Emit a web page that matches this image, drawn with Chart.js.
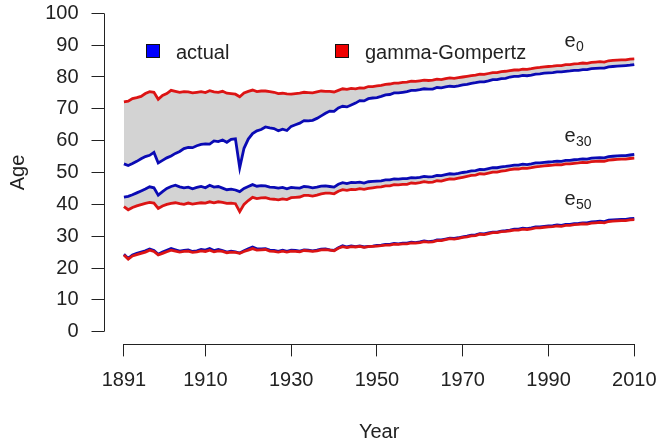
<!DOCTYPE html>
<html>
<head>
<meta charset="utf-8">
<style>
  html, body { margin: 0; padding: 0; background: #fff; }
  #wrap { width: 659px; height: 443px; }
</style>
</head>
<body>
<div id="wrap"><canvas id="chart" width="659" height="443"></canvas></div>
<script src="https://cdn.jsdelivr.net/npm/chart.js@4/dist/chart.umd.min.js"></script>
<script>
const years = [
  1891, 1892, 1893, 1894, 1895, 1896, 1897, 1898, 1899, 1900,
  1901, 1902, 1903, 1904, 1905, 1906, 1907, 1908, 1909, 1910,
  1911, 1912, 1913, 1914, 1915, 1916, 1917, 1918, 1919, 1920,
  1921, 1922, 1923, 1924, 1925, 1926, 1927, 1928, 1929, 1930,
  1931, 1932, 1933, 1934, 1935, 1936, 1937, 1938, 1939, 1940,
  1941, 1942, 1943, 1944, 1945, 1946, 1947, 1948, 1949, 1950,
  1951, 1952, 1953, 1954, 1955, 1956, 1957, 1958, 1959, 1960,
  1961, 1962, 1963, 1964, 1965, 1966, 1967, 1968, 1969, 1970,
  1971, 1972, 1973, 1974, 1975, 1976, 1977, 1978, 1979, 1980,
  1981, 1982, 1983, 1984, 1985, 1986, 1987, 1988, 1989, 1990,
  1991, 1992, 1993, 1994, 1995, 1996, 1997, 1998, 1999, 2000,
  2001, 2002, 2003, 2004, 2005, 2006, 2007, 2008, 2009, 2010
];

// life expectancy at birth
const e0Actual = [
  52.7, 52.2, 52.8, 53.5, 54.3, 55.0, 55.4, 56.3, 53.0, 53.8,
  54.6, 55.2, 56.0, 56.6, 57.5, 57.9, 57.8, 58.4, 58.8, 59.0,
  58.9, 59.9, 59.7, 60.2, 59.5, 60.4, 60.6, 51.5, 57.6, 60.5,
  62.2, 63.1, 63.5, 64.3, 64.0, 63.8, 63.1, 63.6, 63.2, 64.5,
  65.0, 65.5, 66.3, 66.2, 66.4, 67.0, 67.8, 68.6, 69.3, 69.2,
  70.3, 70.8, 70.6, 71.2, 71.8, 72.6, 72.5, 73.2, 73.4, 73.5,
  73.9, 74.4, 74.5, 75.0, 75.0, 75.2, 75.4, 75.8, 75.8, 76.0,
  76.3, 76.2, 76.2, 76.7, 76.6, 76.9, 77.1, 77.0, 77.2, 77.5,
  77.7, 78.0, 78.2, 78.5, 78.5, 78.8, 79.2, 79.2, 79.5, 79.6,
  80.0, 80.2, 80.2, 80.5, 80.4, 80.6, 80.9, 81.0, 81.2, 81.3,
  81.4, 81.6, 81.6, 81.8, 81.9, 82.1, 82.1, 82.3, 82.3, 82.6,
  82.7, 82.8, 82.8, 83.2, 83.3, 83.4, 83.5, 83.6, 83.7, 83.9
];
const e0Gompertz = [
  72.2, 72.4, 73.2, 73.5, 73.9, 74.8, 75.4, 75.2, 73.0, 74.2,
  74.8, 75.8, 75.5, 75.2, 75.4, 75.3, 75.0, 75.2, 75.4, 75.1,
  75.7, 75.3, 75.2, 75.5, 74.9, 74.8, 74.6, 73.8, 75.0, 75.5,
  75.9, 75.4, 75.6, 75.6, 75.4, 75.2, 74.8, 74.9, 74.7, 74.6,
  74.8, 74.9, 75.2, 75.1, 75.0, 75.3, 75.6, 75.5, 75.5, 75.3,
  75.8, 76.3, 76.1, 76.4, 76.3, 76.6, 76.5, 77.0, 77.0, 77.2,
  77.4, 77.7, 77.8, 78.1, 78.1, 78.3, 78.4, 78.7, 78.6, 78.8,
  79.0, 78.9, 79.0, 79.3, 79.2, 79.5, 79.7, 79.6, 79.8, 80.0,
  80.2, 80.4, 80.6, 80.9, 80.8, 81.1, 81.4, 81.4, 81.7, 81.8,
  82.0, 82.2, 82.2, 82.5, 82.4, 82.6, 82.9, 83.0, 83.2, 83.3,
  83.4, 83.6, 83.6, 83.9, 83.9, 84.1, 84.2, 84.4, 84.3, 84.6,
  84.7, 84.8, 84.7, 85.1, 85.2, 85.3, 85.4, 85.4, 85.6, 85.7
];

// remaining life expectancy at age 30
const e30Actual = [
  42.3, 42.5, 43.0, 43.6, 44.2, 44.8, 45.5, 45.2, 42.9, 44.0,
  45.0, 45.6, 46.0, 45.5, 45.2, 45.4, 44.9, 45.3, 45.6, 45.2,
  46.0, 45.4, 45.6, 45.1, 44.6, 44.8, 44.5, 44.0, 45.0, 45.6,
  46.2, 45.7, 45.9, 45.8, 45.4, 45.3, 45.1, 45.3, 44.9, 45.3,
  45.2, 45.1, 45.6, 45.5, 45.2, 45.4, 45.7, 45.8, 45.6, 45.4,
  46.3, 46.8, 46.5, 46.9, 46.8, 47.0, 46.7, 47.1, 47.2, 47.3,
  47.4, 47.7, 47.7, 48.0, 47.9, 48.1, 48.1, 48.4, 48.3, 48.5,
  48.8, 48.6, 48.7, 49.1, 49.0, 49.3, 49.6, 49.5, 49.7, 50.0,
  50.2, 50.5, 50.6, 51.0, 50.9, 51.2, 51.5, 51.5, 51.8, 51.9,
  52.1, 52.3, 52.3, 52.6, 52.5, 52.7, 53.0, 53.0, 53.2, 53.3,
  53.4, 53.6, 53.5, 53.8, 53.8, 54.0, 54.1, 54.3, 54.2, 54.5,
  54.6, 54.7, 54.6, 55.0, 55.1, 55.2, 55.3, 55.3, 55.5, 55.7
];
const e30Gompertz = [
  39.3, 38.3, 39.0, 39.5, 39.9, 40.3, 40.6, 40.4, 38.7, 39.5,
  40.0, 40.3, 40.5, 40.2, 40.0, 40.4, 40.1, 40.3, 40.5, 40.4,
  40.8, 40.5, 40.8, 40.6, 40.3, 40.4, 40.2, 37.7, 40.0, 41.2,
  42.2, 41.8, 42.0, 42.1, 41.7, 41.6, 41.4, 41.7, 41.5, 42.1,
  42.2, 42.3, 42.8, 42.8, 42.6, 42.9, 43.3, 43.5, 43.5, 43.3,
  44.1, 44.6, 44.4, 44.7, 44.6, 44.9, 44.7, 45.0, 45.2, 45.4,
  45.5, 45.8, 45.8, 46.2, 46.1, 46.3, 46.3, 46.7, 46.6, 46.8,
  47.1, 46.9, 47.0, 47.4, 47.3, 47.7, 48.0, 47.9, 48.2, 48.5,
  48.8, 49.1, 49.2, 49.6, 49.5, 49.8, 50.1, 50.1, 50.4, 50.6,
  50.9, 51.1, 51.1, 51.4, 51.3, 51.5, 51.8, 51.9, 52.1, 52.2,
  52.3, 52.5, 52.4, 52.7, 52.7, 52.9, 53.0, 53.2, 53.1, 53.4,
  53.5, 53.6, 53.5, 53.9, 54.0, 54.1, 54.2, 54.2, 54.4, 54.5
];

// remaining life expectancy at age 50
const e50Actual = [
  24.3, 23.0, 24.1, 24.6, 25.0, 25.4, 26.0, 25.5, 24.3, 25.0,
  25.6, 26.1, 25.7, 25.3, 25.5, 25.7, 25.2, 25.4, 25.8, 25.6,
  26.1, 25.5, 25.8, 25.5, 25.0, 25.3, 25.1, 24.7, 25.4, 26.0,
  26.6, 26.0, 26.0, 26.1, 25.6, 25.5, 25.2, 25.6, 25.2, 25.6,
  25.5, 25.3, 25.7, 25.6, 25.4, 25.6, 25.9, 26.0, 25.7, 25.5,
  26.4, 27.0, 26.6, 26.9, 26.7, 26.9, 26.6, 26.8, 26.9, 27.1,
  27.2, 27.4, 27.4, 27.7, 27.6, 27.8, 27.8, 28.1, 28.0, 28.2,
  28.5, 28.3, 28.4, 28.8, 28.8, 29.1, 29.4, 29.3, 29.5, 29.8,
  30.0, 30.3, 30.4, 30.8, 30.7, 31.0, 31.3, 31.3, 31.6, 31.7,
  31.9, 32.2, 32.2, 32.5, 32.4, 32.6, 32.9, 32.9, 33.1, 33.2,
  33.3, 33.5, 33.4, 33.7, 33.7, 33.9, 34.0, 34.2, 34.2, 34.5,
  34.6, 34.7, 34.6, 35.0, 35.1, 35.2, 35.3, 35.3, 35.5, 35.6
];
const e50Gompertz = [
  24.1, 22.8, 23.8, 24.2, 24.6, 25.0, 25.6, 25.2, 24.1, 24.6,
  25.1, 25.6, 25.3, 25.0, 25.2, 25.3, 24.9, 25.1, 25.4, 25.2,
  25.6, 25.1, 25.4, 25.2, 24.8, 25.0, 24.9, 24.6, 25.2, 25.6,
  26.1, 25.6, 25.7, 25.8, 25.3, 25.2, 25.0, 25.3, 25.0, 25.3,
  25.2, 25.1, 25.5, 25.4, 25.2, 25.4, 25.7, 25.8, 25.6, 25.4,
  26.2, 26.7, 26.4, 26.7, 26.6, 26.8, 26.5, 26.7, 26.8, 26.9,
  27.0, 27.2, 27.2, 27.5, 27.4, 27.6, 27.6, 27.9, 27.8, 28.0,
  28.3, 28.1, 28.2, 28.6, 28.6, 28.9, 29.2, 29.1, 29.3, 29.6,
  29.8, 30.1, 30.2, 30.6, 30.5, 30.8, 31.1, 31.1, 31.4, 31.5,
  31.7, 31.9, 31.9, 32.2, 32.1, 32.3, 32.6, 32.6, 32.8, 32.9,
  33.0, 33.2, 33.1, 33.4, 33.4, 33.6, 33.7, 33.9, 33.8, 34.1,
  34.2, 34.3, 34.2, 34.6, 34.7, 34.8, 34.9, 34.9, 35.1, 35.2
];

const xTicks = [1891, 1910, 1930, 1950, 1970, 1990, 2010];
const yTicks = [0, 10, 20, 30, 40, 50, 60, 70, 80, 90, 100];
const legendLabels = ['actual', 'gamma-Gompertz'];
const curveSubscripts = ['0', '30', '50'];

const BLUE = '#0a0ab4';
const RED = '#dc1414';
const GRAY = '#d3d3d3';
const INK = '#222';
const FONT = 'Liberation Sans, Arial, Helvetica, sans-serif';

// where the e0 / e30 / e50 labels sit (data units)
const curveLabelPos = [
  { x: 1993.7, y: 91.1 },
  { x: 1993.7, y: 61.2 },
  { x: 1993.7, y: 41.4 }
];

function pts(vals) {
  return vals.map((v, i) => ({ x: years[i], y: v }));
}

function lineSet(label, vals, color, fillTarget) {
  return {
    label,
    data: pts(vals),
    borderColor: color,
    borderWidth: 2.8,
    pointRadius: 0,
    tension: 0,
    fill: fillTarget ? { target: fillTarget, above: GRAY, below: GRAY } : false
  };
}

// R-style detached axis lines, legend and curve labels
const decor = {
  id: 'decor',
  afterDraw(chart) {
    const { ctx, chartArea } = chart;
    const xs = chart.scales.x, ys = chart.scales.y;
    ctx.save();
    ctx.strokeStyle = INK;
    ctx.lineWidth = 1;
    ctx.beginPath();
    const xl = Math.round(chartArea.left) + 0.5;
    ctx.moveTo(xl, ys.getPixelForValue(yTicks[0]));
    ctx.lineTo(xl, ys.getPixelForValue(yTicks[yTicks.length - 1]));
    const yb = Math.round(chartArea.bottom) + 0.5;
    ctx.moveTo(xs.getPixelForValue(xTicks[0]), yb);
    ctx.lineTo(xs.getPixelForValue(xTicks[xTicks.length - 1]), yb);
    ctx.stroke();

    // legend
    const items = [
      { x: 146, text: legendLabels[0], color: '#0000ff' },
      { x: 335, text: legendLabels[1], color: '#ee0000' }
    ];
    ctx.font = '20px ' + FONT;
    ctx.textBaseline = 'middle';
    ctx.textAlign = 'left';
    items.forEach(it => {
      ctx.fillStyle = it.color;
      ctx.fillRect(it.x, 44, 14, 14);
      ctx.strokeStyle = '#111';
      ctx.strokeRect(it.x + 0.5, 44.5, 13, 13);
      ctx.fillStyle = INK;
      ctx.fillText(it.text, it.x + 30, 53);
    });

    // e0, e30, e50
    curveLabelPos.forEach((p, i) => {
      const px = xs.getPixelForValue(p.x), py = ys.getPixelForValue(p.y);
      ctx.font = '20px ' + FONT;
      ctx.fillStyle = INK;
      ctx.fillText('e', px, py);
      ctx.font = '14px ' + FONT;
      ctx.fillText(curveSubscripts[i], px + 11.5, py + 5);
    });
    ctx.restore();
  }
};

new Chart(document.getElementById('chart'), {
  type: 'line',
  data: {
    datasets: [
      lineSet('e0 gamma-Gompertz', e0Gompertz, RED, '+1'),
      lineSet('e0 actual', e0Actual, BLUE),
      lineSet('e30 gamma-Gompertz', e30Gompertz, RED, '+1'),
      lineSet('e30 actual', e30Actual, BLUE),
      lineSet('e50 gamma-Gompertz', e50Gompertz, RED, '+1'),
      lineSet('e50 actual', e50Actual, BLUE)
    ]
  },
  options: {
    responsive: false,
    animation: false,
    layout: { padding: { top: 0.6, right: 4.3, left: 0, bottom: 0 } },
    plugins: {
      legend: { display: false },
      tooltip: { enabled: false },
      filler: { drawTime: 'beforeDatasetsDraw' }
    },
    scales: {
      x: {
        type: 'linear',
        min: 1886.24,
        max: 2014.76,
        afterBuildTicks: s => { s.ticks = xTicks.map(v => ({ value: v })); },
        afterFit: s => {
          s.height = 98.6;
          s.paddingLeft = 0; s.paddingRight = 0;
        },
        grid: { drawOnChartArea: false, drawTicks: true, tickLength: 12, color: INK },
        border: { display: false },
        ticks: {
          autoSkip: false, maxRotation: 0, padding: 12,
          color: INK, font: { family: FONT, size: 20 },
          callback: v => String(v)
        },
        title: {
          display: true, text: 'Year', color: INK,
          font: { family: FONT, size: 20, lineHeight: 1 },
          padding: { top: 0, bottom: 1 }
        }
      },
      y: {
        min: -4,
        max: 104,
        afterBuildTicks: s => { s.ticks = yTicks.map(v => ({ value: v })); },
        afterFit: s => {
          s.width = 103.5;
          s.paddingTop = 0; s.paddingBottom = 0;
        },
        grid: { drawOnChartArea: false, drawTicks: true, tickLength: 12, color: INK },
        border: { display: false },
        ticks: {
          autoSkip: false, padding: 13,
          color: INK, font: { family: FONT, size: 20 },
          callback: v => String(v)
        },
        title: {
          display: true, text: 'Age', color: INK,
          font: { family: FONT, size: 20, lineHeight: 1 },
          padding: { top: 8, bottom: 0 }
        }
      }
    }
  },
  plugins: [decor]
});
</script>
</body>
</html>
